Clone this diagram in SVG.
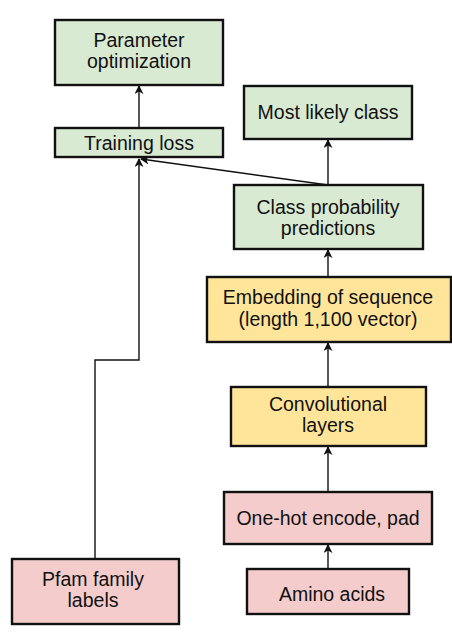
<svg xmlns="http://www.w3.org/2000/svg" width="452" height="634" viewBox="0 0 452 634">
<style>
.box{stroke:#111;stroke-width:2.4}
.g{fill:#d9ead3}.y{fill:#ffe599}.p{fill:#f4cccc}
text{font-family:"Liberation Sans",Arial,sans-serif;font-size:19.5px;fill:#111;text-anchor:middle}
.c{fill:none;stroke:#111;stroke-width:1.4}
</style>
<defs>
<marker id="ah" viewBox="0 0 10 10" refX="9" refY="5" markerWidth="9" markerHeight="9" markerUnits="userSpaceOnUse" orient="auto">
<path d="M0,0 L10,5 L0,10 L3,5 Z" fill="#111"/>
</marker>
</defs>
<g id="connectors">
<line class="c" x1="139" y1="128" x2="139" y2="86" marker-end="url(#ah)"/>
<line class="c" x1="328" y1="185" x2="328" y2="140" marker-end="url(#ah)"/>
<line class="c" x1="328" y1="185" x2="141" y2="159" marker-end="url(#ah)"/>
<line class="c" x1="328" y1="277" x2="328" y2="250" marker-end="url(#ah)"/>
<line class="c" x1="328" y1="387" x2="328" y2="343" marker-end="url(#ah)"/>
<line class="c" x1="328" y1="492" x2="328" y2="447" marker-end="url(#ah)"/>
<line class="c" x1="328" y1="569" x2="328" y2="545" marker-end="url(#ah)"/>
<polyline class="c" points="95,559 95,360 139,360 139,159" marker-end="url(#ah)"/>
</g>
<g id="param-opt">
<rect class="box g" x="55" y="20" width="168" height="65"/>
<text x="139" y="47">Parameter</text>
<text x="139" y="68">optimization</text>
</g>
<g id="training-loss">
<rect class="box g" x="55" y="128" width="168" height="29"/>
<text x="139" y="150">Training loss</text>
</g>
<g id="most-likely">
<rect class="box g" x="244" y="86" width="168" height="53"/>
<text x="328" y="119">Most likely class</text>
</g>
<g id="class-prob">
<rect class="box g" x="234" y="185" width="189" height="64"/>
<text x="328" y="214">Class probability</text>
<text x="328" y="235">predictions</text>
</g>
<g id="embedding">
<rect class="box y" x="207" y="277" width="244" height="65"/>
<text x="328" y="304">Embedding of sequence</text>
<text x="328" y="326">(length 1,100 vector)</text>
</g>
<g id="conv">
<rect class="box y" x="231" y="387" width="195" height="59"/>
<text x="328" y="411">Convolutional</text>
<text x="328" y="432">layers</text>
</g>
<g id="onehot">
<rect class="box p" x="224" y="492" width="208" height="52"/>
<text x="328" y="525">One-hot encode, pad</text>
</g>
<g id="amino">
<rect class="box p" x="247" y="569" width="162" height="45"/>
<text x="332" y="601">Amino acids</text>
</g>
<g id="pfam">
<rect class="box p" x="12" y="559" width="167" height="65"/>
<text x="93" y="586">Pfam family</text>
<text x="93" y="607">labels</text>
</g>
</svg>
